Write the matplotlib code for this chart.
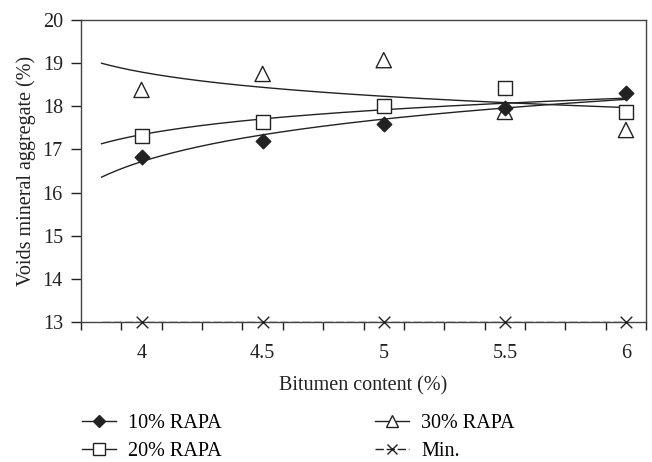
import numpy as np
import matplotlib
matplotlib.use("Agg")
import matplotlib.pyplot as plt
from matplotlib.ticker import FixedLocator

plt.rcParams["font.family"] = ["Liberation Serif", "DejaVu Serif"]

# Bitumen content and VMA for each RAPA blend
bitumen = [4, 4.5, 5, 5.5, 6]
vma_10 = [16.83, 17.20, 17.60, 17.95, 18.30]
vma_20 = [17.31, 17.63, 18.01, 18.42, 17.86]
vma_30 = [18.38, 18.75, 19.07, 17.87, 17.45]
vma_min = [13, 13, 13, 13, 13]

ink = "#222222"
fs = 14.5

fig = plt.figure(figsize=(6.52, 4.62), dpi=100)
ax = fig.add_axes([0.1242, 0.303, 0.8668, 0.6537])

# logarithmic trend on the point index (1..5)
x = np.array(bitumen)
idx = 2 * x - 7
xs = np.linspace(3.835, 6.0, 200)
ts = np.log(2 * xs - 7)
for ys in (vma_10, vma_20, vma_30):
    b, a = np.polyfit(np.log(idx), ys, 1)
    ax.plot(xs, a + b * ts, color=ink, lw=1.0, zorder=2)

ax.plot([3.835, 6.0], [vma_min[0], vma_min[-1]], color=ink, lw=1.0,
        ls=(0, (6, 2)), zorder=2)

ax.scatter(bitumen, vma_10, marker="D", s=55, color=ink, zorder=4)
ax.scatter(bitumen, vma_20, marker="s", s=110, facecolor="white",
           edgecolor=ink, lw=1.0, zorder=3)
ax.scatter(bitumen, vma_30, marker="^", s=120, facecolor="none",
           edgecolor=ink, lw=1.0, zorder=3)
ax.scatter(bitumen, vma_min, marker="x", s=70, color=ink, lw=1.0, zorder=4,
           clip_on=False)

# legend proxies
h10, = ax.plot([], [], color=ink, lw=1.0, marker="D", ms=6, label="10% RAPA")
h20, = ax.plot([], [], color=ink, lw=1.0, marker="s", ms=9, mfc="white",
               label="20% RAPA")
h30, = ax.plot([], [], color=ink, lw=1.0, marker="^", ms=9, mfc="white",
               label="30% RAPA")
hmin, = ax.plot([], [], color=ink, lw=1.0, marker="x", ms=7, ls=(0, (6, 2)),
                label="Min.")

ax.set_xlim(3.75, 3.75 + 14 / 6)
ax.set_ylim(13, 20)
ax.set_yticks(range(13, 21))
ax.set_xticks(bitumen)
ax.set_xticklabels(["4", "4.5", "5", "5.5", "6"])
ax.xaxis.set_minor_locator(FixedLocator([3.75 + k / 6 for k in range(15)]))
ax.tick_params(axis="x", which="major", length=0, pad=16, labelsize=fs,
               colors=ink)
ax.tick_params(axis="x", which="minor", length=6, width=1.0, color=ink)
ax.tick_params(axis="y", length=7, width=1.0, labelsize=fs, colors=ink, pad=6)
for sp in ax.spines.values():
    sp.set_color("#444444")
    sp.set_linewidth(1.0)

ax.set_xlabel("Bitumen content (%)", fontsize=fs, color=ink, labelpad=9)
ax.set_ylabel("Voids mineral aggregate (%)", fontsize=fs, color=ink,
              labelpad=5)

fig.legend(handles=[h10, h20, h30, hmin], ncol=2, frameon=False,
           loc="upper left", bbox_to_anchor=(0.098, 0.143), fontsize=fs,
           handlelength=1.7, handletextpad=0.6, columnspacing=7.6,
           labelspacing=0.45)

fig.savefig("out.png", dpi=100)
